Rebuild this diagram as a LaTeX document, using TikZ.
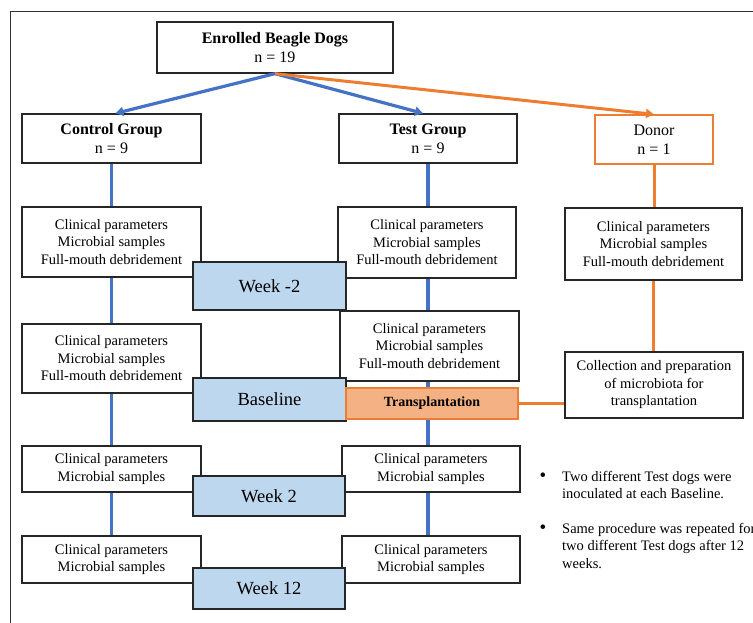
\documentclass[tikz,border=0pt]{standalone}
\usepackage{fontspec}
\setmainfont{Liberation Serif}
\usetikzlibrary{arrows.meta,backgrounds}
\definecolor{lineblue}{HTML}{4472C4}
\definecolor{lineorange}{HTML}{ED7D31}
\definecolor{weekblue}{HTML}{BDD7EE}
\definecolor{transorange}{HTML}{F4B183}

\begin{document}
\begin{tikzpicture}[x=1pt, y=-1pt,
    box/.style={draw=black!85, line width=1.3pt, fill=white, align=center, inner sep=0pt},
    head/.style={box, font=\fontsize{16}{19}\selectfont},
    info/.style={box, font=\fontsize{14.5}{17.5}\selectfont, minimum width=179pt},
    week/.style={box, fill=weekblue, font=\fontsize{18.5}{22}\selectfont, minimum width=153pt},
    blueline/.style={lineblue, line width=3.2pt},
    orangeline/.style={lineorange, line width=3pt},
    tip/.style={-{Triangle[length=8pt, width=9pt]}},
    note/.style={align=left, anchor=north west, inner sep=0pt, font=\fontsize{14.5}{17.5}\selectfont},
    dot/.style={inner sep=0pt, font=\fontsize{19}{20}\selectfont}]
      \useasboundingbox (0, 0) rectangle (753, 623);
      \draw[black!80, line width=0.8pt] (10, 623) -- (10, 11) -- (753, 11);

      \node[head, minimum width=236pt, minimum height=51pt] (enr) at (275, 47.5) {\textbf{Enrolled Beagle Dogs}\\n = 19};
      \node[head, minimum width=179pt, minimum height=49pt] (ctl) at (111.5, 138.5) {\textbf{Control Group}\\n = 9};
      \node[head, minimum width=178pt, minimum height=49pt] (tst) at (428, 138.5) {\textbf{Test Group}\\n = 9};
      \node[head, draw=lineorange, minimum width=118pt, minimum height=49pt] (don) at (654, 139.5) {Donor\\n = 1};

      \node[info, minimum height=70pt] (c1) at (111.5, 242) {Clinical parameters\\Microbial samples\\Full-mouth debridement};
      \node[info, minimum width=178pt, minimum height=71pt] (t1) at (427, 242.5) {Clinical parameters\\Microbial samples\\Full-mouth debridement};
      \node[info, minimum width=177pt, minimum height=72pt] (d1) at (653.5, 244) {Clinical parameters\\Microbial samples\\Full-mouth debridement};
      \node[info, minimum height=69pt] (c2) at (111.5, 358.5) {Clinical parameters\\Microbial samples\\Full-mouth debridement};
      \node[info, minimum height=70pt] (t2) at (429.5, 346) {Clinical parameters\\Microbial samples\\Full-mouth debridement};
      \node[info, minimum width=178pt, minimum height=66pt] (col) at (654, 385) {Collection and preparation\\of microbiota for\\transplantation};
      \node[info, minimum height=46pt] (c3) at (111.5, 469) {Clinical parameters\\Microbial samples};
      \node[info, minimum width=178pt, minimum height=46pt] (t3) at (431, 469) {Clinical parameters\\Microbial samples};
      \node[info, minimum height=47pt] (c4) at (111.5, 559.5) {Clinical parameters\\Microbial samples};
      \node[info, minimum width=178pt, minimum height=47pt] (t4) at (431, 559.5) {Clinical parameters\\Microbial samples};

      \node[week, minimum height=48pt] (wk1) at (269.5, 286) {Week -2};
      \node[week, minimum height=43pt] (wk2) at (269.5, 399.5) {Baseline};
      \node[week, minimum width=152pt, minimum height=40pt] (wk3) at (269, 496) {Week 2};
      \node[week, minimum width=152pt, minimum height=41pt] (wk4) at (269, 588.5) {Week 12};
      \node[box, draw=lineorange, fill=transorange, minimum width=172pt, minimum height=31pt,
            font=\fontsize{14}{17}\selectfont\bfseries] (tr) at (432, 403.5) {Transplantation};

      \draw[blueline, tip] (enr.south) -- ([xshift=4pt]ctl.north);
      \draw[blueline, tip] (enr.south) -- ([xshift=-5pt]tst.north);
      \draw[orangeline, tip] (enr.south) -- (don.north);

      \begin{scope}[on background layer]
        \draw[blueline] (ctl.south) -- (c4.north);
        \draw[blueline] (tst.south) -- (tst.south |- t4.north);
        \draw[orangeline] (don.south) -- (don.south |- d1.north);
        \draw[orangeline] (d1.south) -- (d1.south |- col.north);
        \draw[orangeline] (tr.east) -- (tr.east -| col.west);
      \end{scope}

      \node[dot] (dot1) at (543, 477) {\textbullet};
      \node[note] (note1) at (562, 471) {Two different Test dogs were\\inoculated at each Baseline.};
      \node[dot] (dot2) at (543, 529) {\textbullet};
      \node[note] (note2) at (562, 523) {Same procedure was repeated for\\two different Test dogs after 12\\weeks.};
    \end{tikzpicture}
\end{document}
